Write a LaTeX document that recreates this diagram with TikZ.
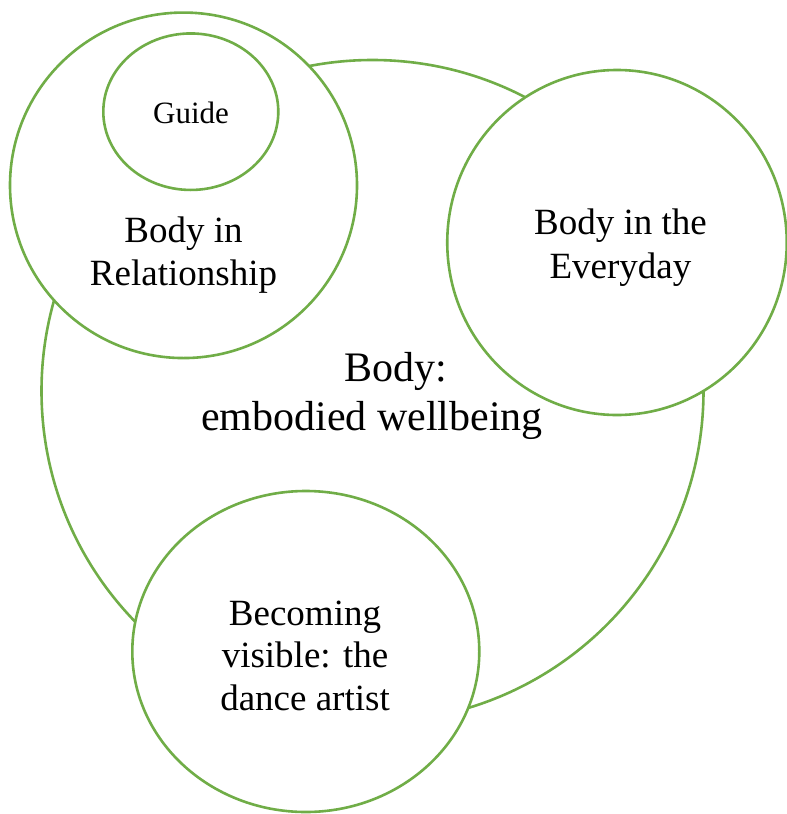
\documentclass[tikz,border=0pt]{standalone}
\usepackage{fontspec}
\setmainfont{Liberation Serif}
\usetikzlibrary{shapes.geometric}
\definecolor{grn}{HTML}{70AD47}
\tikzset{
  ring/.style={ellipse, draw=grn, line width=2.6pt, fill=white, inner sep=0pt},
  lbl/.style={anchor=base, inner sep=0pt, text=black}
}
\begin{document}
\begin{tikzpicture}[x=1pt,y=-1pt]
\useasboundingbox (0,0) rectangle (787,814);
\node[ring, minimum width=662pt, minimum height=662pt] (big) at (372.5,391) {};
\node[ring, minimum width=347pt, minimum height=345.5pt] (rel) at (183.5,185.3) {};
\node[ring, minimum width=175pt, minimum height=156.5pt] (guide) at (190.8,111.7) {};
\node[ring, minimum width=339.5pt, minimum height=345pt] (every) at (617,242.5) {};
\node[ring, minimum width=347pt, minimum height=321pt] (becom) at (305.8,651.5) {};
\node[lbl] (tguide) at (191,123) {\fontsize{31}{36}\selectfont Guide};
\node[lbl] (trel) at (183.5,242) {\fontsize{37}{43}\selectfont\begin{tabular}[t]{@{}c@{}}Body in\\Relationship\end{tabular}};
\node[lbl] (tevery) at (620.5,234) {\fontsize{37}{44}\selectfont\begin{tabular}[t]{@{}c@{}}Body in the\\Everyday\end{tabular}};
\node[lbl] (tbig) at (372,381.7) {\fontsize{42}{48.3}\selectfont\begin{tabular}[t]{@{}c@{}}\hspace*{48pt}Body:\\embodied wellbeing\end{tabular}};
\node[lbl] (tbecom) at (305,625) {\fontsize{37}{42.5}\selectfont\begin{tabular}[t]{@{}c@{}}Becoming\\visible: the\\dance artist\end{tabular}};
\end{tikzpicture}
\end{document}
